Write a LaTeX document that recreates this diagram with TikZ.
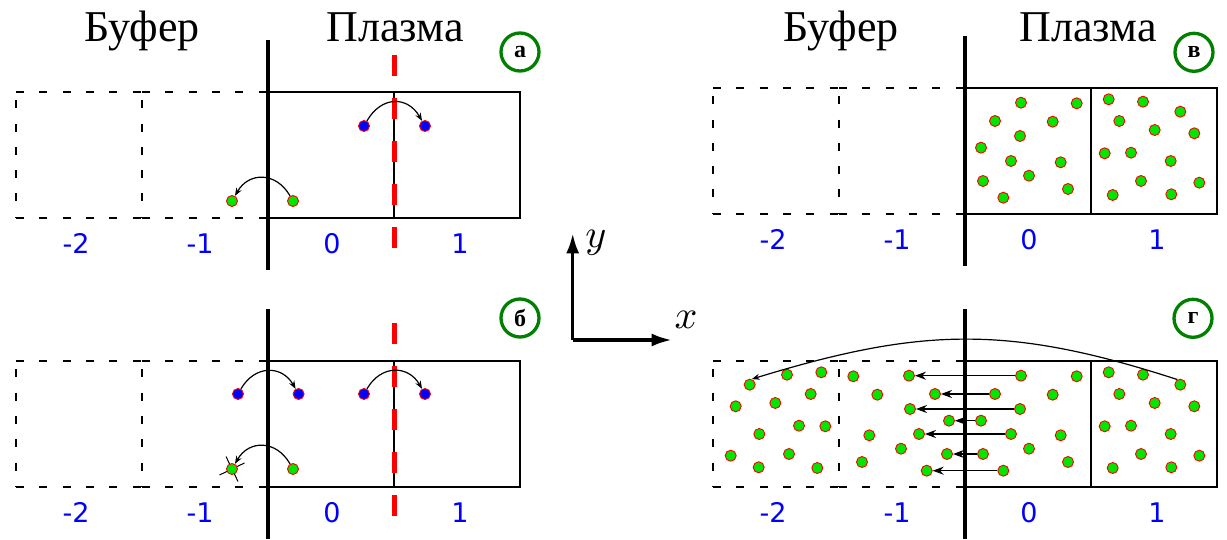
\documentclass[tikz,border=0pt]{standalone}
\usepackage{fontspec}
\setmainfont{Liberation Serif}
\newfontfamily\numfont{DejaVu Sans}
\usetikzlibrary{arrows.meta}

\definecolor{partgreen}{RGB}{0,230,0}
\definecolor{taggreen}{RGB}{0,128,0}

% particle positions in cells 0 and 1 (x from the plasma boundary, y from the cell bottom)
\newcommand{\zerocell}{56/111.3, 111.7/110.7, 30/93, 87.7/92.3, 55/78, 16/66.3,
  46/53, 95.7/51.7, 18/33, 64/38.3, 103/25, 38.3/16.3}
\newcommand{\onecell}{143.7/114.7, 178/112.3, 215.3/102.3, 154.3/93, 189.7/84,
  229.3/80.7, 139.7/60.7, 166/61.3, 205.7/53, 176/33, 234.3/31.3, 147.7/19, 206.3/19.7}

\tikzset{
  cellline/.style={black, line width=2pt},
  bufline/.style={black, line width=2.2pt, dash pattern=on 8pt off 15.3pt},
  bufvline/.style={bufline, dash phase=15pt},
  border/.style={black, line width=3.5pt},
  cutline/.style={red, line width=5pt, dash pattern=on 21pt off 22pt},
  part/.style={circle, draw=red, line width=0.9pt, fill=partgreen, minimum size=11pt, inner sep=0pt},
  ion/.style={part, fill=blue},
  hop/.style={-{Stealth[length=8pt,width=6pt]}, line width=1.2pt},
  push/.style={-{Stealth[length=11pt,width=8pt]}, line width=1.2pt},
  axis/.style={line width=3.3pt, -{Latex[length=20pt,width=13pt]}},
  axislabel/.style={scale=4, inner sep=0pt},
  tag/.style={circle, draw=taggreen, line width=3.3pt, minimum size=38pt, inner sep=0pt,
    font=\fontsize{24}{24}\selectfont\bfseries},
  idx/.style={text=blue, font=\numfont\fontsize{27}{27}\selectfont},
  title/.style={anchor=base, font=\fontsize{44}{44}\selectfont},
}

\begin{document}
\begin{tikzpicture}[x=1pt, y=1pt]
\useasboundingbox (0,0) rectangle (1227,539);

% cells of the four panels
\foreach \ox/\oy/\k in {268/321/A, 268/52/B, 965/325/V, 965/52/G} {
\begin{scope}[shift={(\ox,\oy)}]
\draw[bufline] (-252,0) -- (-126,0);
\draw[bufline] (-126,0) -- (0,0);
\draw[bufline] (-252,126) -- (-126,126);
\draw[bufline] (-126,126) -- (0,126);
\draw[bufvline] (-252,126) -- (-252,0);
\draw[bufvline] (-126,126) -- (-126,0);
\draw[cellline] (0,0) rectangle (252,126);
\draw[cellline] (126,0) -- (126,126);
\draw[border] (0,-52) -- (0,178);
\node[idx] (idx\k-m2) at (-192,-25.5) {-2};
\node[idx] (idx\k-m1) at (-68,-25.5) {-1};
\node[idx] (idx\k-z) at (64,-25.5) {0};
\node[idx] (idx\k-p1) at (192,-25.5) {1};
\end{scope}
}

% titles and panel tags
\node[title] (bufA) at (142,497.3) {Буфер};
\node[title] (plasA) at (395,497.3) {Плазма};
\node[title] (bufV) at (841,497.3) {Буфер};
\node[title] (plasV) at (1088,497.3) {Плазма};
\node[tag] (tagA) at (520,487) {а};
\node[tag] (tagB) at (520,221) {б};
\node[tag] (tagV) at (1194,486.7) {в};
\node[tag] (tagG) at (1193,220.7) {г};

% panel a
\begin{scope}[shift={(268,321)}]
\draw[cutline] (126,163) -- (126,-30);
\node[ion] (a1) at (96,92) {};
\node[ion] (a2) at (157,92) {};
\node[part] (a3) at (-36,17) {};
\node[part] (a4) at (25,17) {};
\draw[hop] (a1) to[out=60, in=120, looseness=1.35] (a2);
\draw[hop] (a4) to[out=120, in=60, looseness=1.3] (a3);
\end{scope}

% panel b
\begin{scope}[shift={(268,52)}]
\draw[cutline] (126,164) -- (126,-29);
\draw[line width=1pt] (-36,18) ++(-6,12.5) -- ++(12,-25);
\draw[line width=1pt] (-36,18) ++(-12.5,-6) -- ++(25,12);
\node[ion] (b1) at (-30,93) {};
\node[ion] (b2) at (30.6,93) {};
\node[ion] (b3) at (96,93) {};
\node[ion] (b4) at (157,93) {};
\node[part] (b5) at (-36,18) {};
\node[part] (b6) at (25,18) {};
\draw[hop] (b1) to[out=60, in=120, looseness=1.3] (b2);
\draw[hop] (b3) to[out=60, in=120, looseness=1.3] (b4);
\draw[hop] (b6) to[out=120, in=60, looseness=1.3] (b5);
\end{scope}

% panel v
\begin{scope}[shift={(965,325)}]
\foreach \px/\py [count=\i] in \zerocell
  \node[part] (v0p\i) at (\px,\py) {};
\foreach \px/\py [count=\i] in \onecell
  \node[part] (v1p\i) at (\px,\py) {};
\end{scope}

% panel g
\begin{scope}[shift={(965,52)}]
\foreach \px/\py [count=\i] in \zerocell {
  \node[part] (g0p\i) at (\px,\py) {};
  \node[part] (gm0p\i) at (-\px,\py) {};
}
\foreach \px/\py [count=\i] in \onecell {
  \node[part] (g1p\i) at (\px,\py) {};
  \node[part] (gm1p\i) at (-\px,\py) {};
}
\foreach \i in {1,3,5,6,7,9,12}
  \draw[push] (g0p\i) -- (gm0p\i);
\draw[hop] (g1p3.120) to[out=162, in=17, looseness=1.07] (gm1p3.70);
\end{scope}

% axes
\coordinate (orig) at (572.7,199);
\coordinate (ytip) at (572.7,305.7);
\coordinate (xtip) at (671.7,199);
\draw[axis] (orig) -- (ytip);
\draw[axis] (orig) -- (xtip);
\node[axislabel] (ylab) at (596,296) {$y$};
\node[axislabel] (xlab) at (686,219) {$x$};
\end{tikzpicture}
\end{document}
